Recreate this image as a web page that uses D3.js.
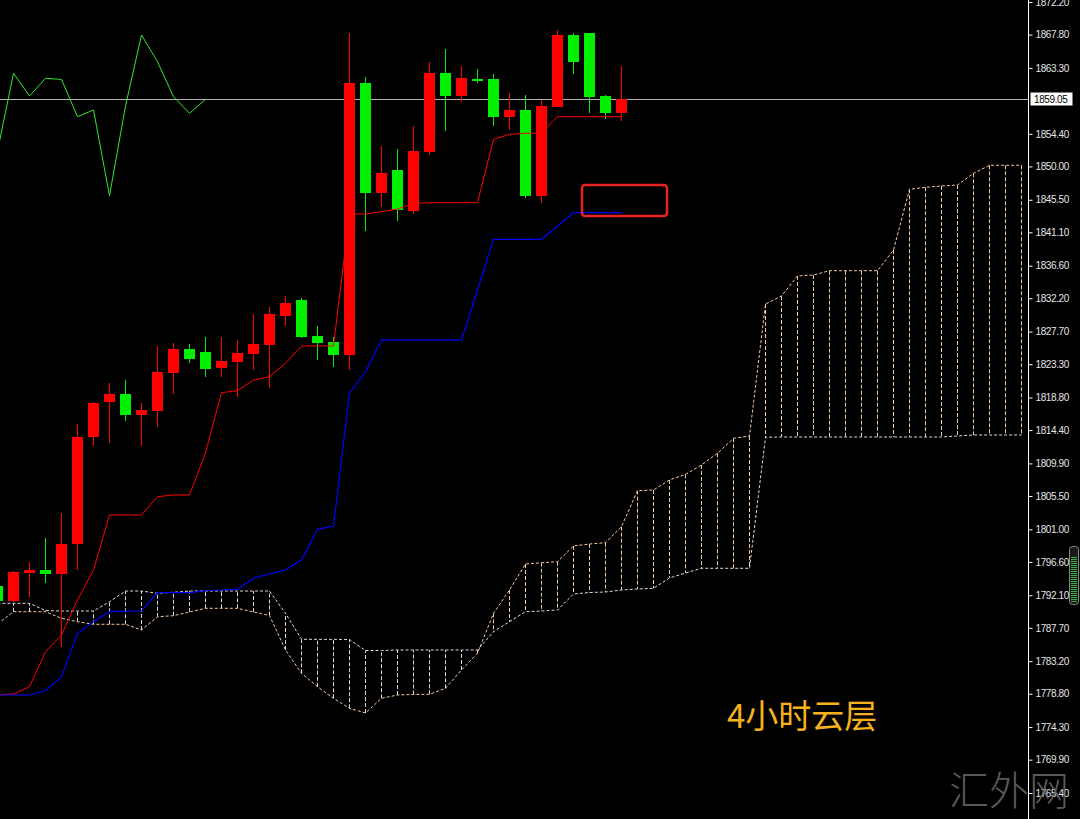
<!DOCTYPE html>
<html>
<head>
<meta charset="utf-8">
<script src="https://cdn.jsdelivr.net/npm/d3@7/dist/d3.min.js"></script>
<style>
  html, body { margin: 0; padding: 0; background: #000; }
  svg { display: block; }
</style>
</head>
<body>
<div id="chart"></div>
<script>
  // Bar index of the first value in every series (that candle is cut by the left edge).
  var firstBar = -1;

  // 4 hour candles, bars -1 .. 38.
  var open = [1793.35, 1791.32, 1795.15, 1795.51, 1794.93, 1798.98, 1813.43, 1818.23, 1819.27, 1816.44,
  1817.02, 1822.15, 1825.31, 1824.94, 1822.82, 1823.63, 1824.67, 1825.89, 1829.80, 1831.96,
  1827.10, 1826.29, 1824.54, 1861.30, 1846.45, 1849.52, 1843.98, 1851.99, 1862.57, 1859.51,
  1861.87, 1861.76, 1856.71, 1857.62, 1846.05, 1858.06, 1867.74, 1867.97, 1859.51, 1857.17];
  var high = [1793.62, 1795.37, 1796.63, 1799.79, 1803.25, 1815.22, 1818.23, 1820.72, 1821.16, 1818.10,
  1825.75, 1826.20, 1826.02, 1826.93, 1826.93, 1826.56, 1830.07, 1831.06, 1832.50, 1832.19,
  1828.45, 1826.93, 1868.06, 1862.03, 1852.76, 1852.31, 1855.46, 1864.14, 1865.81, 1863.56,
  1863.11, 1862.48, 1859.95, 1859.64, 1858.97, 1868.42, 1868.01, 1868.06, 1859.64, 1863.56];
  var low = [1791.05, 1791.19, 1791.91, 1793.80, 1785.07, 1795.51, 1812.25, 1812.70, 1815.67, 1812.25,
  1814.78, 1819.27, 1823.42, 1821.61, 1821.53, 1818.83, 1822.51, 1820.04, 1828.45, 1826.79,
  1823.86, 1822.88, 1822.51, 1841.32, 1844.48, 1842.67, 1843.58, 1851.54, 1854.82, 1858.74,
  1861.30, 1855.46, 1854.92, 1845.70, 1845.10, 1857.96, 1862.48, 1857.17, 1856.36, 1856.17];
  var close = [1791.37, 1795.24, 1795.51, 1794.93, 1799.02, 1813.43, 1818.02, 1819.27, 1816.44, 1817.11,
  1822.24, 1825.31, 1824.04, 1822.69, 1823.73, 1824.77, 1826.02, 1830.07, 1831.52, 1827.01,
  1826.20, 1824.54, 1861.30, 1846.45, 1849.07, 1844.12, 1852.08, 1862.57, 1859.51, 1861.90,
  1861.74, 1856.71, 1857.62, 1846.05, 1858.16, 1867.74, 1864.14, 1859.41, 1857.17, 1859.05];

  // Ichimoku lines, bars -1 .. 38.
  var tenkan = [1778.63, 1778.77, 1779.75, 1784.48, 1786.73, 1791.46, 1795.51, 1802.94, 1802.94, 1802.94,
  1805.41, 1805.64, 1805.64, 1811.31, 1819.45, 1819.72, 1821.16, 1821.61, 1823.42, 1825.75,
  1825.75, 1825.75, 1843.58, 1843.58, 1843.89, 1844.25, 1845.02, 1845.10, 1845.10, 1845.10,
  1845.10, 1853.66, 1854.34, 1854.47, 1854.51, 1856.71, 1856.71, 1856.71, 1856.71, 1856.71];
  var kijun = [1778.63, 1778.63, 1778.63, 1779.21, 1781.10, 1786.96, 1788.53, 1789.88, 1789.97, 1790.01,
  1792.45, 1792.45, 1792.45, 1792.71, 1792.81, 1792.90, 1794.39, 1794.97, 1795.51, 1796.86,
  1801.00, 1801.45, 1819.41, 1822.24, 1826.56, 1826.56, 1826.56, 1826.56, 1826.56, 1826.56,
  1833.31, 1840.16, 1840.16, 1840.16, 1840.16, 1841.96, 1843.75, 1843.75, 1843.75, 1843.75];
  // Chikou, bars -1 .. 12.
  var chikou = [1852.08, 1862.57, 1859.51, 1861.90, 1861.74, 1856.71, 1857.62, 1846.05, 1858.16, 1867.74,
  1864.14, 1859.41, 1857.17, 1859.05];

  // Cloud, bars -1 .. 63.
  var spanA = [1788.22, 1789.88, 1789.88, 1789.88, 1788.99, 1788.53, 1788.18, 1788.18, 1788.18, 1787.41,
  1789.20, 1789.34, 1789.84, 1790.34, 1790.34, 1790.34, 1789.84, 1789.37, 1784.71, 1781.56,
  1779.75, 1778.19, 1776.84, 1776.20, 1778.19, 1778.63, 1778.70, 1778.73, 1779.54, 1782.01,
  1784.26, 1789.66, 1792.81, 1796.32, 1796.49, 1796.63, 1798.75, 1799.02, 1799.20, 1801.36,
  1806.22, 1806.31, 1807.66, 1808.43, 1809.69, 1811.27, 1813.29, 1813.60, 1831.42, 1832.50,
  1835.21, 1835.34, 1835.92, 1835.92, 1835.92, 1835.92, 1838.72, 1846.91, 1847.18, 1847.36,
  1847.49, 1849.07, 1850.15, 1850.15, 1850.15];
  var spanB = [1791.01, 1791.01, 1791.01, 1790.04, 1789.97, 1789.97, 1789.97, 1791.23, 1792.67, 1792.67,
  1792.36, 1792.50, 1792.67, 1792.67, 1792.67, 1792.67, 1792.67, 1792.67, 1789.66, 1786.15,
  1786.15, 1786.15, 1786.12, 1784.64, 1784.64, 1784.71, 1784.71, 1784.71, 1784.71, 1784.71,
  1784.71, 1787.18, 1788.53, 1789.88, 1789.97, 1790.11, 1792.27, 1792.47, 1792.54, 1792.81,
  1792.94, 1793.04, 1794.43, 1795.10, 1795.74, 1795.74, 1795.74, 1795.74, 1813.43, 1813.47,
  1813.47, 1813.47, 1813.47, 1813.47, 1813.47, 1813.47, 1813.47, 1813.47, 1813.47, 1813.47,
  1813.60, 1813.74, 1813.74, 1813.74, 1813.74];

  // Price axis labels.
  var tickValues = [1872.20, 1867.80, 1863.30, 1854.40, 1850.00, 1845.50, 1841.10, 1836.60, 1832.20,
  1827.70, 1823.30, 1818.80, 1814.40, 1809.90, 1805.50, 1801.00, 1796.60, 1792.10, 1787.70,
  1783.20, 1778.80, 1774.30, 1769.90, 1765.40];

  var bid = close[close.length - 1];

  var width = 1080,
  height = 819,
  plotRight = 1028;

  var x = d3.scaleLinear().domain([-1, 63]).range([-3, 1021]);
  var y = d3.scaleLinear().domain([1765.40, 1872.20]).range([793, 2]);

  var svg = d3.select('#chart').append('svg').
  attr('width', width).
  attr('height', height).
  style('background', '#000');

  svg.append('clipPath').attr('id', 'plot').
  append('rect').attr('x', 0).attr('y', 0).attr('width', plotRight).attr('height', height);

  var plot = svg.append('g').attr('clip-path', 'url(#plot)');

  // Bid line behind everything.
  plot.append('line').
  attr('x1', 0).attr('x2', plotRight + 2).
  attr('y1', Math.round(y(bid)) + 0.5).attr('y2', Math.round(y(bid)) + 0.5).
  attr('stroke', '#b4b4b4').attr('stroke-width', 1);

  // Cloud: hatch between the spans, colour from the span on top.
  var sandy = '#f1c9a3',
  thistle = '#e4d8da';
  var cloud = spanA.map(function (a, i) {
    return { bar: i + firstBar, a: a, b: spanB[i] };
  });

  plot.append('g').selectAll('line').
  data(cloud).
  enter().append('line').
  attr('x1', function (d) { return Math.round(x(d.bar)) + 0.5; }).
  attr('x2', function (d) { return Math.round(x(d.bar)) + 0.5; }).
  attr('y1', function (d) { return y(d.a); }).
  attr('y2', function (d) { return y(d.b); }).
  attr('stroke', function (d) { return d.a >= d.b ? sandy : thistle; }).
  attr('stroke-width', 1).
  attr('stroke-dasharray', '4,2');

  var spanLine = function (key) {
    return d3.line().
    x(function (d) { return x(d.bar) + 0.5; }).
    y(function (d) { return y(d[key]); });
  };

  plot.append('path').
  attr('d', spanLine('a')(cloud)).
  attr('fill', 'none').attr('stroke', sandy).attr('stroke-width', 1).
  attr('stroke-dasharray', '3,2');

  plot.append('path').
  attr('d', spanLine('b')(cloud)).
  attr('fill', 'none').attr('stroke', thistle).attr('stroke-width', 1).
  attr('stroke-dasharray', '3,2');

  // Candles. Red for a rising bar, green for a falling one.
  var bars = open.map(function (o, i) {
    return { bar: i + firstBar, o: o, h: high[i], l: low[i], c: close[i] };
  });

  var candle = plot.append('g').attr('shape-rendering', 'crispEdges').
  selectAll('g').
  data(bars).
  enter().append('g');

  candle.append('line').
  attr('x1', function (d) { return Math.round(x(d.bar)) + 0.5; }).
  attr('x2', function (d) { return Math.round(x(d.bar)) + 0.5; }).
  attr('y1', function (d) { return y(d.h); }).
  attr('y2', function (d) { return y(d.l); }).
  attr('stroke', function (d) { return d.c >= d.o ? '#ff0000' : '#00f000'; });

  candle.append('rect').
  attr('x', function (d) { return Math.round(x(d.bar)) - 5; }).
  attr('width', 11).
  attr('y', function (d) { return y(Math.max(d.o, d.c)); }).
  attr('height', function (d) { return Math.max(2, Math.abs(y(d.o) - y(d.c))); }).
  attr('fill', function (d) { return d.c >= d.o ? '#ff0000' : '#00f000'; });

  // Ichimoku lines.
  var line = d3.line().
  x(function (d, i) { return x(i + firstBar) + 0.5; }).
  y(function (d) { return y(d); });

  plot.append('path').attr('d', line(tenkan)).
  attr('fill', 'none').attr('stroke', '#ff0000').attr('stroke-width', 1);

  plot.append('path').attr('d', line(kijun)).
  attr('fill', 'none').attr('stroke', '#0000ff').attr('stroke-width', 1.2);

  plot.append('path').attr('d', line(chikou)).
  attr('fill', 'none').attr('stroke', '#32e632').attr('stroke-width', 1);

  // Marked box next to the kijun.
  svg.append('rect').
  attr('x', 582).attr('y', 185).attr('width', 85).attr('height', 31).attr('rx', 3).
  attr('fill', 'none').attr('stroke', '#e8231f').attr('stroke-width', 2.5);

  // Price axis.
  svg.append('line').
  attr('x1', plotRight + 0.5).attr('x2', plotRight + 0.5).
  attr('y1', 0).attr('y2', height).
  attr('stroke', '#ffffff').attr('stroke-width', 1);

  var axis = svg.append('g').
  attr('transform', 'translate(' + (plotRight + 0.5) + ',0)').
  call(d3.axisRight(y).tickValues(tickValues).tickSize(4).tickSizeOuter(0).tickPadding(3).
  tickFormat(d3.format('.2f')));

  axis.select('.domain').remove();
  axis.selectAll('.tick line').attr('stroke', '#ffffff');
  axis.selectAll('.tick text').
  attr('fill', '#e6e6e6').
  style('font-family', '"Liberation Sans", Arial, sans-serif').
  style('font-size', '10px').
  style('letter-spacing', '-0.4px');

  // Bid label.
  var by = Math.round(y(bid));
  svg.append('rect').
  attr('x', plotRight + 2.5).attr('y', by - 6.5).attr('width', 42).attr('height', 13).
  attr('fill', '#ffffff');
  svg.append('text').
  attr('x', plotRight + 6).attr('y', by + 4).
  attr('fill', '#000000').
  style('font-family', '"Liberation Sans", Arial, sans-serif').
  style('font-size', '10px').
  style('letter-spacing', '-0.4px').
  text(d3.format('.2f')(bid));

  // Scroll grip at the right edge.
  svg.append('rect').
  attr('x', 1069.5).attr('y', 546.5).attr('width', 9).attr('height', 58).attr('rx', 3).
  attr('fill', '#1a1a1a').attr('stroke', '#8a8a8a');
  svg.append('g').selectAll('line').
  data(d3.range(557, 603, 2)).
  enter().append('line').
  attr('x1', 1071).attr('x2', 1077).
  attr('y1', function (d) { return d + 0.5; }).attr('y2', function (d) { return d + 0.5; }).
  attr('stroke', '#3fae3f');

  // Title.
  svg.append('text').
  attr('x', 727).attr('y', 728).
  attr('fill', '#f6b21a').
  style('font-family', '"Noto Sans CJK SC", sans-serif').
  style('font-size', '33px').
  text('4小时云层');

  // Watermark.
  svg.append('text').
  attr('x', 949).attr('y', 805).
  attr('fill', '#6a6a6a').
  attr('fill-opacity', 0.85).
  style('font-family', '"Noto Sans CJK SC", sans-serif').
  style('font-weight', 300).
  style('font-size', '40px').
  text('汇外网');
</script>
</body>
</html>
